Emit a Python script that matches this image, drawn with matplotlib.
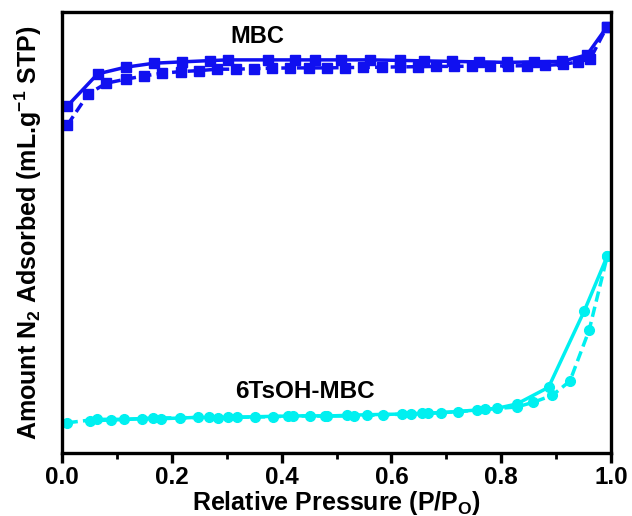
import matplotlib
matplotlib.use("Agg")
import matplotlib.pyplot as plt
from matplotlib.ticker import MultipleLocator

plt.rcParams['font.family'] = ['Liberation Sans', 'DejaVu Sans']
plt.rcParams['font.weight'] = 'bold'

# y values in arbitrary units (axis has no tick labels); 0 = bottom, 441 = top
# MBC adsorption (dashed, lower branch)
mbc_ads_x = [0.010, 0.048, 0.081, 0.116, 0.150, 0.183, 0.217, 0.250, 0.283, 0.317,
             0.350, 0.383, 0.416, 0.449, 0.482, 0.515, 0.548, 0.582, 0.615, 0.648,
             0.681, 0.714, 0.747, 0.780, 0.813, 0.846, 0.879, 0.912, 0.940, 0.962, 0.992]
mbc_ads_y = [328.0, 359.0, 369.7, 373.7, 377.0, 379.7, 381.3, 382.3, 383.7, 383.7,
             384.3, 384.7, 385.0, 385.0, 385.0, 385.3, 385.5, 385.7, 386.0, 386.2,
             386.5, 386.5, 386.7, 387.0, 387.0, 387.2, 387.5, 388.5, 391.0, 394.0, 425.7]
# MBC desorption (solid, upper branch)
mbc_des_x = [0.992, 0.956, 0.910, 0.860, 0.810, 0.760, 0.710, 0.660, 0.616, 0.561,
             0.509, 0.461, 0.424, 0.376, 0.303, 0.270, 0.218, 0.168, 0.116, 0.065, 0.010]
mbc_des_y = [425.7, 398.0, 391.5, 391.0, 390.5, 391.0, 391.5, 392.0, 392.5, 393.0,
             393.0, 393.0, 393.0, 393.0, 393.0, 392.3, 391.0, 389.7, 385.7, 379.0, 347.0]

# 6TsOH-MBC adsorption (dashed, lower/right branch)
ts_ads_x = [0.010, 0.063, 0.113, 0.166, 0.215, 0.268, 0.318, 0.385, 0.420, 0.479,
            0.531, 0.585, 0.635, 0.667, 0.722, 0.770, 0.828, 0.858, 0.893, 0.925,
            0.960, 0.993]
ts_ads_y = [30.3, 33.7, 33.7, 35.0, 35.3, 35.7, 35.7, 36.3, 37.0, 37.0,
            37.0, 38.3, 39.0, 39.7, 41.3, 43.7, 46.0, 50.7, 57.7, 72.0,
            123.0, 197.0]
# 6TsOH-MBC desorption (solid, upper/left branch)
ts_des_x = [0.993, 0.951, 0.886, 0.828, 0.792, 0.755, 0.690, 0.655, 0.620, 0.555,
            0.519, 0.482, 0.452, 0.412, 0.352, 0.303, 0.284, 0.248, 0.180, 0.146,
            0.089, 0.051]
ts_des_y = [197.0, 142.0, 65.7, 49.0, 44.7, 43.0, 40.3, 39.7, 39.0, 38.3,
            37.7, 37.0, 37.3, 37.0, 36.3, 35.7, 35.3, 35.7, 34.3, 34.3,
            33.0, 32.3]

x_ticks = [0.0, 0.2, 0.4, 0.6, 0.8, 1.0]
x_tick_labels = ['0.0', '0.2', '0.4', '0.6', '0.8', '1.0']

blue = '#1010f0'
cyan = '#00f0f0'

fig = plt.figure(figsize=(6.32, 5.16), dpi=100)
ax = fig.add_axes([0.098, 0.122, 0.869, 0.855])

ax.plot(mbc_des_x, mbc_des_y, '-', color=blue, lw=2.5, marker='s', ms=6.5)
ax.plot(mbc_ads_x, mbc_ads_y, '--', color=blue, lw=2.5, marker='s', ms=6.5, dashes=(3, 1.5))
ax.plot(ts_des_x, ts_des_y, '-', color=cyan, lw=2.5, marker='o', ms=7)
ax.plot(ts_ads_x, ts_ads_y, '--', color=cyan, lw=2.5, marker='o', ms=7, dashes=(3, 1.5))

ax.set_xlim(0, 1.0)
ax.set_ylim(0, 441)

ax.text(0.355, 416.5, 'MBC', fontsize=17, fontweight='bold', ha='center', va='center')
ax.text(0.443, 61.5, '6TsOH-MBC', fontsize=17.5, fontweight='bold', ha='center', va='center')

for s in ax.spines.values():
    s.set_linewidth(2.4)

ax.xaxis.set_minor_locator(MultipleLocator(0.1))
ax.set_xticks(x_ticks)
ax.set_xticklabels(x_tick_labels, fontweight='bold')
ax.tick_params(axis='x', which='major', direction='out', length=7, width=2.4,
               labelsize=17.5, pad=2)
ax.tick_params(axis='x', which='minor', direction='out', length=4, width=2.0)
ax.set_yticks([])

ax.set_xlabel(r'Relative Pressure (P/P$_\mathregular{O}$)', fontsize=18,
              fontweight='bold', labelpad=0)
ax.set_ylabel(r'Amount N$_\mathregular{2}$ Adsorbed (mL.g$^\mathregular{-1}$ STP)',
              fontsize=18, fontweight='bold')
ax.yaxis.set_label_coords(-0.033, 0.5)

fig.savefig('out.png', dpi=100)
